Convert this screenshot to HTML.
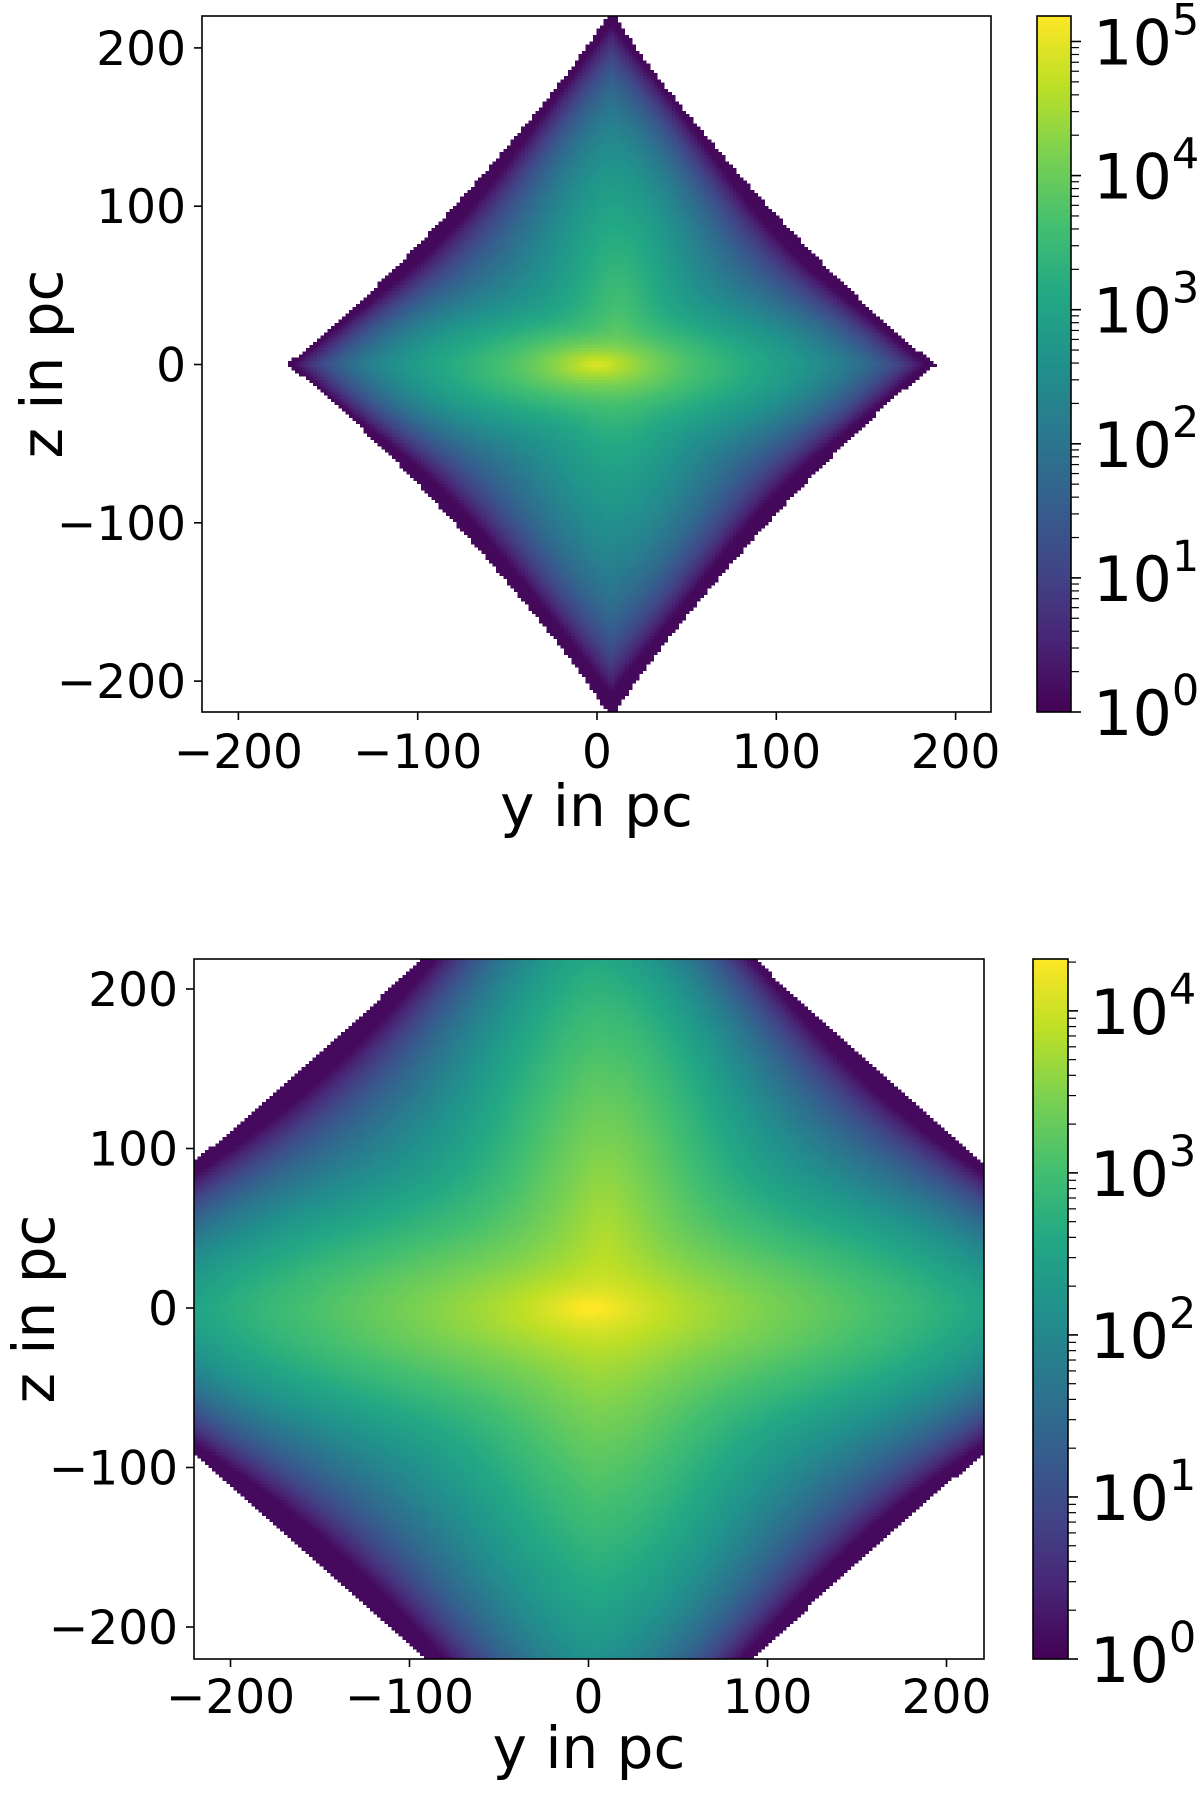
<!DOCTYPE html>
<html><head><meta charset="utf-8">
<style>
html,body{margin:0;padding:0;background:#fff;}
#wrap{position:relative;width:1200px;height:1794px;overflow:hidden;font-family:"DejaVu Sans","Liberation Sans",sans-serif;}
canvas{position:absolute;image-rendering:pixelated;}
svg{position:absolute;left:0;top:0;}
</style></head>
<body>
<div id="wrap">
<canvas id="h1"></canvas>
<canvas id="h2"></canvas>
<canvas id="c1"></canvas>
<canvas id="c2"></canvas>
<svg id="ov" width="1200" height="1794"></svg>
</div>
<script>
// ---- data ----
const xTicks = [-200,-100,0,100,200];
const yTicks = [-200,-100,0,100,200];
const tickLabels = ["\u2212200","\u2212100","0","100","200"];
// density components: [amplitude, centerY, centerZ, scaleY, scaleZ, power, normType]
const topComponents = [
  [1500, 5, 0, 45, 45, 1.0, "l1"],
  [10000, 0, -3, 45, 14, 1.2, "l2"],
  [4000, 12, 25, 16, 50, 1.1, "l2"],
  [80000, 0, 0, 12, 5, 1.0, "l2"]
];
const bottomComponents = [
  [3000, 5, 0, 80, 80, 1.28, "l1"],
  [6000, 0, -3, 90, 25, 1.2, "l2"],
  [4000, 10, 40, 28, 90, 1.2, "l2"],
  [15000, 0, 0, 15, 7, 1.0, "l2"]
];
// envelope: [centerY, centerZ, radiusY, radiusZ, normExponent, fadeStrength, fadePower]
const topEnvelope = [8, 0, 182, 225, 0.9, 5, 6];
const bottomEnvelope = [0, 0, 322, 322, 0.95, 4, 8];
const topLogMax = 5.19;
const bottomLogMax = 4.32;
const topDecades = [0,1,2,3,4,5];
const bottomDecades = [0,1,2,3,4];

const viridis = ["#440154","#482475","#414487","#355f8d","#2a788e","#21918c","#22a884","#44bf70","#7ad151","#bddf26","#fde725"].map(h=>[parseInt(h.slice(1,3),16),parseInt(h.slice(3,5),16),parseInt(h.slice(5,7),16)]);
function cmap(t){t=Math.max(0,Math.min(1,t));const f=t*10;const i=Math.min(9,Math.floor(f));const u=f-i;const a=viridis[i],b=viridis[i+1];return [a[0]+(b[0]-a[0])*u,a[1]+(b[1]-a[1])*u,a[2]+(b[2]-a[2])*u];}

function density(comps,env,y,z){
  const q=env[4];
  const e=Math.pow(Math.pow(Math.abs(y-env[0])/env[2],q)+Math.pow(Math.abs(z-env[1])/env[3],q),1/q);
  if(e>1) return 0;
  let s=0;
  for(const c of comps){
    const dy=(y-c[1])/c[3], dz=(z-c[2])/c[4];
    const r = c[6]==="l1" ? Math.abs(dy)+Math.abs(dz) : Math.sqrt(dy*dy+dz*dz);
    s += c[0]*Math.exp(-Math.pow(r,c[5]));
  }
  s *= Math.exp(-env[5]*Math.pow(e,env[6]));
  return Math.max(s,1.3);
}

const NS="http://www.w3.org/2000/svg";
const ov=document.getElementById('ov');
function el(tag,attrs,parent){const e=document.createElementNS(NS,tag);for(const k in attrs)e.setAttribute(k,attrs[k]);(parent||ov).appendChild(e);return e;}

function panel(p){
  const W=p.right-p.left,H=p.bottom-p.top;
  const sx=v=>p.x0+v*p.kx, sy=v=>p.y0-v*p.ky;
  const cv=document.getElementById(p.hid);
  const nb=220; cv.width=nb; cv.height=nb;
  cv.style.left=p.left+'px'; cv.style.top=p.top+'px'; cv.style.width=W+'px'; cv.style.height=H+'px';
  const ctx=cv.getContext('2d'); const img=ctx.createImageData(nb,nb);
  const yMin=(p.left-p.x0)/p.kx, yMax=(p.right-p.x0)/p.kx;
  const zMax=(p.y0-p.top)/p.ky, zMin=(p.y0-p.bottom)/p.ky;
  for(let j=0;j<nb;j++){for(let i=0;i<nb;i++){
    const y=yMin+(i+0.5)*(yMax-yMin)/nb, z=zMax-(j+0.5)*(zMax-zMin)/nb;
    const d=density(p.comps,p.env,y,z); const o=(j*nb+i)*4;
    if(d<1){img.data[o]=255;img.data[o+1]=255;img.data[o+2]=255;}
    else{const c=cmap(Math.log10(d)/p.logMax);img.data[o]=c[0];img.data[o+1]=c[1];img.data[o+2]=c[2];}
    img.data[o+3]=255;
  }}
  ctx.putImageData(img,0,0);
  const g=el('g',{});
  
  
  el('rect',{x:p.left,y:p.top,width:W,height:H,fill:'none',stroke:'#000','stroke-width':1.6},g);
  xTicks.forEach((v,i)=>{
    const x=sx(v);
    el('line',{x1:x,y1:p.bottom,x2:x,y2:p.bottom+8,stroke:'#000','stroke-width':1.6},g);
    const t=el('text',{x:x,y:p.xLabY,'text-anchor':'middle','font-size':47},g); t.textContent=tickLabels[i];
     
  });
  yTicks.forEach((v,i)=>{
    const y=sy(v);
    el('line',{x1:p.left-8,y1:y,x2:p.left,y2:y,stroke:'#000','stroke-width':1.6},g);
    const t=el('text',{x:p.left-16,y:y+17,'text-anchor':'end','font-size':47},g); t.textContent=tickLabels[i];
     
  });
  const xl=el('text',{x:(p.left+p.right)/2,y:p.xTitleY,'text-anchor':'middle','font-size':58},g); xl.textContent='y in pc';
   
  const cy=(p.top+p.bottom)/2;
  const yl=el('text',{x:0,y:0,'text-anchor':'middle','font-size':58,transform:`translate(${p.yTitleX},${cy}) rotate(-90)`},g); yl.textContent='z in pc';
   
  const cb=document.getElementById(p.cid); const ch=p.bottom-p.top;
  cb.width=1; cb.height=ch; cb.style.left=p.cbL+'px'; cb.style.top=p.top+'px'; cb.style.width=(p.cbR-p.cbL)+'px'; cb.style.height=ch+'px';
  const cc=cb.getContext('2d'); const ci=cc.createImageData(1,ch);
  for(let j=0;j<ch;j++){const c=cmap(1-(j+0.5)/ch);ci.data[j*4]=c[0];ci.data[j*4+1]=c[1];ci.data[j*4+2]=c[2];ci.data[j*4+3]=255;}
  cc.putImageData(ci,0,0);
  const cg=el('g',{});
  
  
  el('rect',{x:p.cbL,y:p.top,width:p.cbR-p.cbL,height:ch,fill:'none',stroke:'#000','stroke-width':1.6},cg);
  const cy2=l=>p.bottom-l/p.logMax*ch;
  p.decades.forEach(d=>{
    const y=cy2(d);
    el('line',{x1:p.cbR,y1:y,x2:p.cbR+10,y2:y,stroke:'#000','stroke-width':1.6},cg);
    const t=el('text',{x:p.cbR+22,y:y+23,'font-size':62},cg);
    t.textContent='10';
    const s=el('tspan',{dy:-30,'font-size':43},t); s.textContent=String(d);
     
    for(let m=2;m<=9;m++){const l=d+Math.log10(m); if(l<=p.logMax){const yy=cy2(l);
      el('line',{x1:p.cbR,y1:yy,x2:p.cbR+8,y2:yy,stroke:'#000','stroke-width':1.2},cg);}}
  });
}

panel({name:'top',hid:'h1',cid:'c1',comps:topComponents,env:topEnvelope,logMax:topLogMax,decades:topDecades,
  left:202,right:991,top:16,bottom:712,x0:597,kx:1.793,y0:364.5,ky:1.583,
  xLabY:768,xTitleY:826,yTitleX:62,cbL:1037,cbR:1071});
panel({name:'bottom',hid:'h2',cid:'c2',comps:bottomComponents,env:bottomEnvelope,logMax:bottomLogMax,decades:bottomDecades,
  left:194,right:984,top:959,bottom:1659,x0:588.5,kx:1.79,y0:1308,ky:1.595,
  xLabY:1713,xTitleY:1768,yTitleX:54,cbL:1033,cbR:1068});
</script>
</body></html>
